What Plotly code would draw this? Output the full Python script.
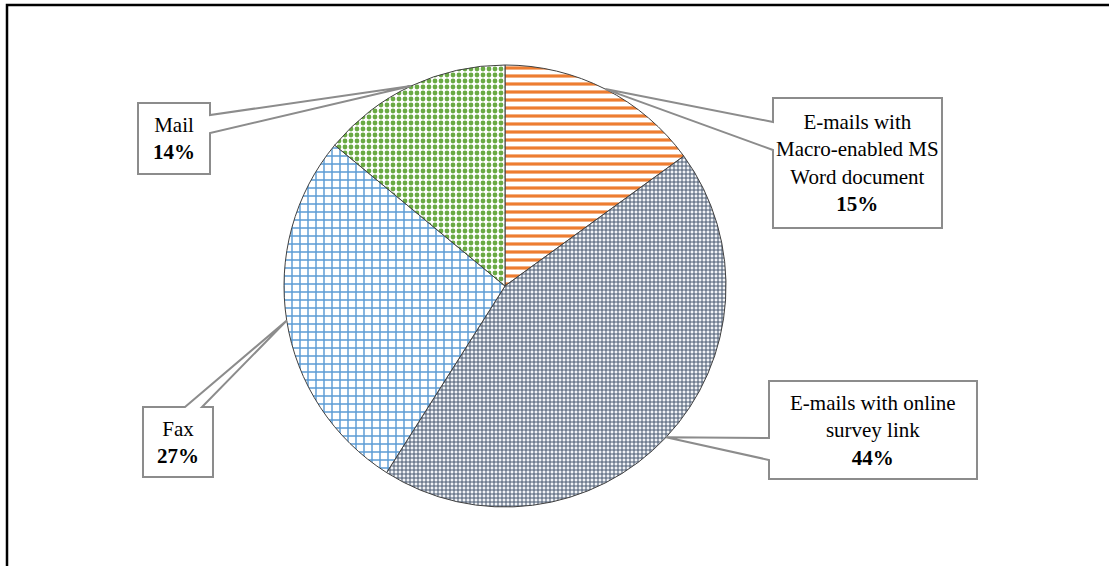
import math
import plotly.graph_objects as go

# Share of survey responses by distribution channel (clockwise from 12 o'clock)
labels = [
    "E-mails with<br>Macro-enabled MS<br>Word document",
    "E-mails with online<br>survey link",
    "Fax",
    "Mail",
]
shares = [15, 44, 27, 14]

W, H = 1109, 566
CX, CY, R = 505, 286, 221  # pie centre and radius in pixels

slice_styles = [
    dict(shape="-", fgcolor="#ED7D31", bgcolor="white", size=8, solidity=0.4),
    dict(shape="+", fgcolor="#4A5A72", bgcolor="#F2F4F7", size=4, solidity=0.45),
    dict(shape="+", fgcolor="#5B9BD5", bgcolor="white", size=8, solidity=0.33),
    dict(shape=".", fgcolor="#6AAA44", bgcolor="white", size=6, solidity=0.5),
]

# Callout boxes: (x0, y0, x1, y1) in pixels, side the pointer leaves from,
# and the two pointer base positions along that side
callouts = [
    dict(box=(773, 98, 942, 228), side="left", base=(122, 150)),
    dict(box=(769, 381, 977, 479), side="left", base=(438, 460)),
    dict(box=(143, 407, 213, 477), side="top", base=(185, 202)),
    dict(box=(138, 103, 210, 174), side="right", base=(115, 133)),
]


def px(x):
    return x / W


def py(y):
    return 1 - y / H


def callout_path(box, side, base, tip):
    x0, y0, x1, y1 = box
    a, b = base
    tx, ty = tip
    if side == "left":
        pts = [(x0, y0), (x1, y0), (x1, y1), (x0, y1), (x0, b), (tx, ty), (x0, a)]
    elif side == "right":
        pts = [(x0, y0), (x1, y0), (x1, a), (tx, ty), (x1, b), (x1, y1), (x0, y1)]
    else:  # top
        pts = [(x0, y0), (a, y0), (tx, ty), (b, y0), (x1, y0), (x1, y1), (x0, y1)]
    return "M " + " L ".join(f"{px(x):.5f},{py(y):.5f}" for x, y in pts) + " Z"


fig = go.Figure(
    go.Pie(
        labels=[l.replace("<br>", " ") for l in labels],
        values=shares,
        sort=False,
        direction="clockwise",
        rotation=0,
        textinfo="none",
        hoverinfo="label+percent",
        marker=dict(
            colors=[s["bgcolor"] for s in slice_styles],
            line=dict(color="#404040", width=1),
            pattern=dict(
                shape=[s["shape"] for s in slice_styles],
                fgcolor=[s["fgcolor"] for s in slice_styles],
                bgcolor=[s["bgcolor"] for s in slice_styles],
                size=[s["size"] for s in slice_styles],
                solidity=[s["solidity"] for s in slice_styles],
                fgopacity=1,
                fillmode="overlay",
            ),
        ),
        domain=dict(x=[px(CX - R), px(CX + R)], y=[py(CY + R), py(CY - R)]),
        showlegend=False,
    )
)

shapes = []
annotations = []
total = sum(shares)
cum = 0
for lab, val, co in zip(labels, shares, callouts):
    mid = (cum + val / 2) / total * 2 * math.pi
    cum += val
    tip = (CX + R * math.sin(mid), CY - R * math.cos(mid))
    shapes.append(
        dict(
            type="path",
            xref="paper",
            yref="paper",
            path=callout_path(co["box"], co["side"], co["base"], tip),
            fillcolor="white",
            line=dict(color="#8C8C8C", width=2),
            layer="above",
        )
    )
    x0, y0, x1, y1 = co["box"]
    annotations.append(
        dict(
            xref="paper",
            yref="paper",
            x=px((x0 + x1) / 2),
            y=py((y0 + y1) / 2),
            xanchor="center",
            yanchor="middle",
            text=f"{lab}<br><b>{val}%</b>",
            showarrow=False,
            align="center",
            font=dict(family="Liberation Serif", size=21, color="black"),
        )
    )

# Outer frame (top and left edges)
shapes.append(
    dict(
        type="path",
        xref="paper",
        yref="paper",
        path=f"M {px(7)},{py(H + 5)} L {px(7)},{py(5)} L {px(W + 5)},{py(5)}",
        line=dict(color="black", width=2.5),
        layer="above",
    )
)

fig.update_layout(
    width=W,
    height=H,
    margin=dict(l=0, r=0, t=0, b=0),
    paper_bgcolor="white",
    plot_bgcolor="white",
    shapes=shapes,
    annotations=annotations,
)

fig.write_html("out.html")
